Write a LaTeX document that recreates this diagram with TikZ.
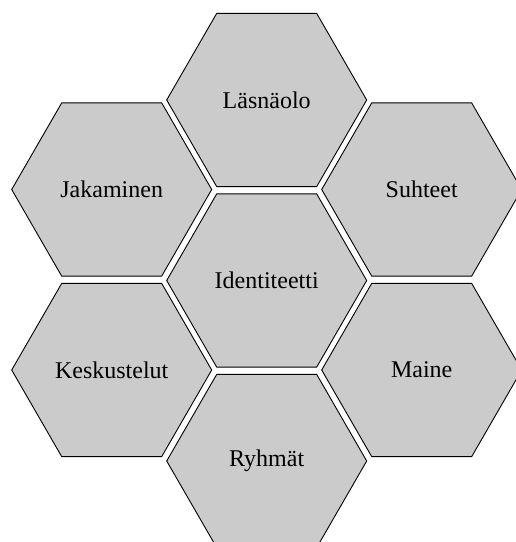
\documentclass[tikz,border=0pt]{standalone}
\usepackage{fontspec}
\setmainfont{Liberation Serif}
\usetikzlibrary{shapes.geometric}
\definecolor{hexfill}{RGB}{203,203,203}
\tikzset{
  hexcell/.style={regular polygon, regular polygon sides=6, minimum size=200pt,
    inner sep=0pt, draw=black, line width=0.9pt, fill=hexfill,
    font=\fontsize{24}{28}\selectfont}
}
\begin{document}
\begin{tikzpicture}[x=1pt,y=-1pt]
\useasboundingbox (0,0) rectangle (516,542);
\node[hexcell] (laesnaeolo) at (266.7,100) {Läsnäolo};
\node[hexcell] (identiteetti) at (266.7,280.5) {Identiteetti};
\node[hexcell] (ryhmaet) at (266.7,461) {Ryhmät};
\node[hexcell] (jakaminen) at (111.7,189.5) {Jakaminen};
\node[hexcell] (keskustelut) at (111.7,370) {Keskustelut};
\node[hexcell] (suhteet) at (421.7,189.5) {Suhteet};
\node[hexcell] (maine) at (421.7,370) {Maine};
\end{tikzpicture}
\end{document}
